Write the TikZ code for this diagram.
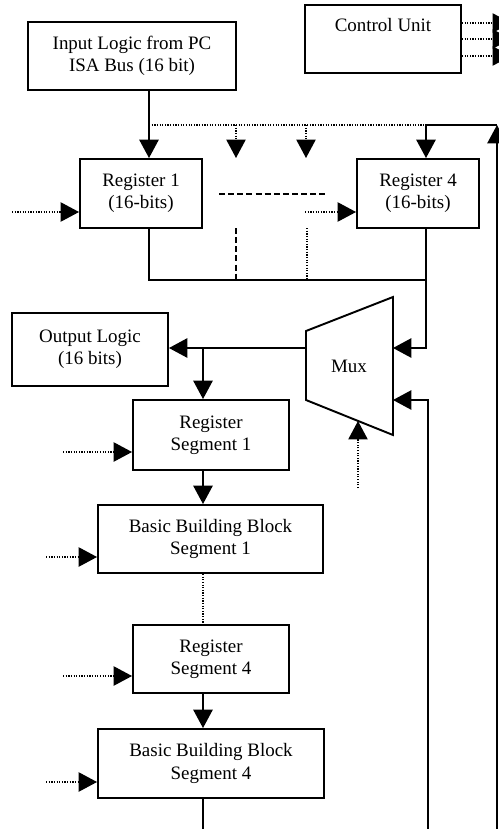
\documentclass[tikz,border=0pt]{standalone}
\usepackage{fontspec}
\setmainfont{Liberation Serif}
\usetikzlibrary{arrows.meta,positioning,calc}

\begin{document}
\begin{tikzpicture}[x=0.02cm, y=-0.02cm,
  font=\fontsize{10.8}{12.6}\selectfont,
  block/.style={draw, line width=1.1pt, align=center, inner sep=0pt},
  wire/.style={line width=1.1pt},
  ctrl/.style={line width=0.8pt, dash pattern=on 0.7pt off 0.8pt},
  brk/.style={line width=1pt, dash pattern=on 3.4pt off 1.8pt},
  arr/.style={-{Triangle[width=11pt,length=10.5pt]}}]
  \useasboundingbox (0,0) rectangle (499,829);
  \clip (0,0) rectangle (499,829);

  % Blocks
  \node[block, minimum width=4.16cm, minimum height=1.36cm] (inlog) at (132,56) {Input Logic from PC\\ISA Bus (16 bit)};
  \node[block, minimum width=3.12cm, minimum height=1.36cm] (cu) at (383,39) {Control Unit\\\strut};
  \node[block, minimum width=2.44cm, minimum height=1.38cm] (reg1) at (141,193.5) {Register 1\\(16-bits)};
  \node[block, minimum width=2.44cm, minimum height=1.38cm] (reg4) at (418,193.5) {Register 4\\(16-bits)};
  \node[block, minimum width=3.12cm, minimum height=1.46cm] (outlog) at (90,349.5) {Output Logic\\(16 bits)};
  \node[block, minimum width=3.12cm, minimum height=1.4cm] (rseg1) at (211,435) {Register\\Segment 1};
  \node[block, minimum width=4.5cm, minimum height=1.36cm] (bbb1) at (210.5,539) {Basic Building Block\\Segment 1};
  \node[block, minimum width=3.12cm, minimum height=1.36cm] (rseg4) at (211,659) {Register\\Segment 4};
  \node[block, minimum width=4.52cm, minimum height=1.38cm] (bbb4) at (211,763.5) {Basic Building Block\\Segment 4};

  % Mux
  \coordinate (mtl) at (306,331);
  \coordinate (mtr) at (393,297);
  \coordinate (mbr) at (393,435);
  \coordinate (mbl) at (306,400);
  \draw[wire] (mtl) -- (mtr) -- (mbr) -- (mbl) -- cycle;
  \node (mux) at (349,366) {Mux};
  \coordinate (mxin1) at (393,348);
  \coordinate (mxin2) at (393,400);
  \coordinate (mxout) at (306,348);
  \coordinate (mxsel) at (358,421);
  \coordinate (mxselsrc) at (358,488);

  % Bus points
  \coordinate (busin) at (149,125);
  \coordinate (busr) at (426,125);
  \coordinate (tap2) at (236,125);
  \coordinate (tap3) at (306,125);
  \coordinate (tap2e) at (236,158);
  \coordinate (tap3e) at (306,158);
  \coordinate (fbtop) at (497,125);
  \coordinate (fbbot) at (497,829);
  \coordinate (lbus) at (149,280);
  \coordinate (rbus) at (426,280);
  \coordinate (loop) at (428,829);
  \coordinate (join) at (203,348);
  \coordinate (out4) at (203,829);

  % Input side
  \draw[wire, arr] (inlog.south -| busin) -- (reg1.north -| busin);
  \draw[ctrl] (busin) -- (busr);
  \draw[ctrl, arr] (tap2) -- (tap2e);
  \draw[ctrl, arr] (tap3) -- (tap3e);
  \draw[wire, arr] (fbtop) -- (busr) -- (reg4.north -| busr);
  \draw[wire, arr] (fbbot) -- (fbtop);

  % Omitted registers 2 and 3
  \draw[brk] (219,194) -- (325,194);
  \draw[brk] (236,228) -- (236,280);
  \draw[ctrl] (307,228) -- (307,280);

  % Register outputs to mux
  \draw[wire] (reg1.south -| busin) -- (lbus) -- (rbus);
  \draw[wire, arr] (reg4.south -| busr) -- (busr |- mxin1) -- (mxin1);
  \draw[wire, arr] (loop) -- (loop |- mxin2) -- (mxin2);
  \draw[ctrl, arr] (mxselsrc) -- (mxsel);

  % Segment chain
  \draw[wire, arr] (mxout) -- (outlog.east |- mxout);
  \draw[wire, arr] (join) -- (rseg1.north -| join);
  \draw[wire, arr] (rseg1.south -| join) -- (bbb1.north -| join);
  \draw[ctrl] (bbb1.south -| join) -- (rseg4.north -| join);
  \draw[wire, arr] (rseg4.south -| join) -- (bbb4.north -| join);
  \draw[wire] (bbb4.south -| join) -- (out4);

  % Control signals
  \foreach \n/\x/\y in {reg1/12/212, reg4/305/212, rseg1/63/452, bbb1/46/557, rseg4/63/676, bbb4/46/782} {
    \coordinate (in-\n) at (\x,\y);
    \draw[ctrl, arr] (in-\n) -- (in-\n -| \n.west);
  }
  \foreach \y [count=\i] in {23,39,56} {
    \coordinate (cu-\i) at (511,\y);
    \draw[ctrl, arr] (cu.east |- cu-\i) -- (cu-\i);
  }
\end{tikzpicture}
\end{document}
